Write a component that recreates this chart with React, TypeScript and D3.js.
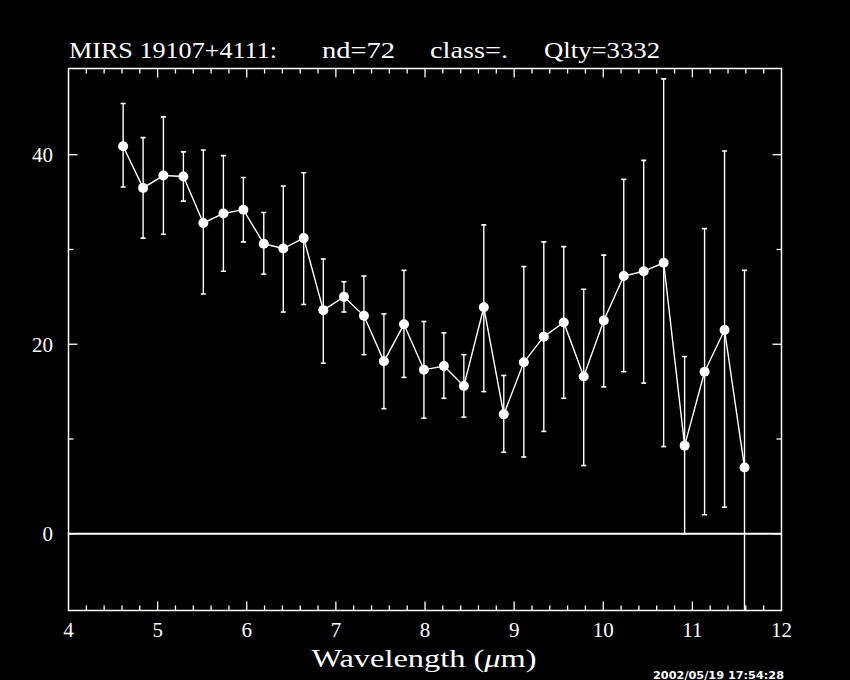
import React from "react";
import * as d3 from "d3";

const wavelength = [4.613, 4.837, 5.065, 5.289, 5.513, 5.738, 5.962, 6.191, 6.41, 6.639, 6.859, 7.091, 7.315, 7.539, 7.764, 7.988, 8.212, 8.436, 8.66, 8.884, 9.109, 9.333, 9.557, 9.781, 10.006, 10.23, 10.454, 10.678, 10.913, 11.137, 11.361, 11.585];
const flux = [40.9, 36.5, 37.8, 37.7, 32.8, 33.8, 34.2, 30.6, 30.1, 31.2, 23.6, 25.0, 23.0, 18.2, 22.1, 17.3, 17.7, 15.6, 23.9, 12.6, 18.1, 20.8, 22.3, 16.6, 22.5, 27.2, 27.7, 28.6, 9.3, 17.1, 21.5, 7.0];
const upper = [45.4, 41.8, 44.0, 40.3, 40.5, 39.9, 37.6, 33.9, 36.7, 38.1, 29.0, 26.6, 27.2, 23.2, 27.8, 22.4, 21.2, 18.9, 32.6, 16.7, 28.2, 30.8, 30.3, 25.8, 29.4, 37.4, 39.4, 48.0, 18.7, 32.2, 40.4, 27.8];
const lower = [36.6, 31.2, 31.6, 35.1, 25.3, 27.7, 30.8, 27.4, 23.4, 24.2, 18.0, 23.4, 18.9, 13.2, 16.5, 12.2, 14.3, 12.3, 15.0, 8.6, 8.1, 10.8, 14.3, 7.2, 15.5, 17.1, 15.9, 9.2, 0.0, 2.0, 2.8, -13.8];

const xTickLabels = [4, 5, 6, 7, 8, 9, 10, 11, 12];
const yTickLabels = [0, 20, 40];
const titleParts = [
  { text: "MIRS 19107+4111:", x: 69, w: 208 },
  { text: "nd=72", x: 322, w: 73 },
  { text: "class=.", x: 430, w: 78 },
  { text: "Qlty=3332", x: 544, w: 116 },
];
const dateText = "2002/05/19 17:54:28";

const W = 850;
const H = 680;
const L = 68.5, R = 781.5, T = 68.5, B = 610.5;

export default function App() {
  const x = d3.scaleLinear().domain([4, 12]).range([L, R]);
  const y = d3.scaleLinear().domain([-8.1, 49.1]).range([B, T]);

  const xMinor = d3.range(4, 12.0001, 0.2).map((v) => +v.toFixed(1));
  const yMinor = d3.range(0, 49, 10);

  const pts = wavelength.map((w, i) => ({ w, f: flux[i], u: upper[i], l: lower[i] }));
  const line = d3
    .line<{ w: number; f: number }>()
    .x((d) => x(d.w))
    .y((d) => y(d.f));

  const font = "'Liberation Serif', 'Times New Roman', serif";
  const white = "#ffffff";

  return (
    <div style={{ position: "absolute", left: 0, top: 0, width: W, height: H, background: "#000" }}>
      <svg width={W} height={H} style={{ display: "block", background: "#000" }}>
        <defs>
          <clipPath id="plotclip">
            <rect x={L} y={T} width={R - L} height={B - T} />
          </clipPath>
        </defs>

        {/* title */}
        {titleParts.map((p) => (
          <text key={p.text} x={p.x} y={57.5} fill={white} fontFamily={font} fontSize={24} textLength={p.w} lengthAdjust="spacingAndGlyphs">
            {p.text}
          </text>
        ))}

        {/* frame */}
        <rect x={L} y={T} width={R - L} height={B - T} fill="none" stroke={white} strokeWidth={1.5} />

        {/* x ticks */}
        {xMinor.map((v) => {
          const major = Math.abs(v - Math.round(v)) < 1e-6;
          const len = major ? 9 : 5;
          if (v <= 4 || v >= 12) return null;
          return (
            <g key={"xt" + v}>
              <line x1={x(v)} x2={x(v)} y1={B} y2={B - len} stroke={white} strokeWidth={1.3} />
              <line x1={x(v)} x2={x(v)} y1={T} y2={T + len} stroke={white} strokeWidth={1.3} />
            </g>
          );
        })}

        {/* y ticks */}
        {yMinor.map((v) => {
          const major = v % 20 === 0;
          const len = major ? 9 : 5;
          return (
            <g key={"yt" + v}>
              <line x1={L} x2={L + len} y1={y(v)} y2={y(v)} stroke={white} strokeWidth={1.3} />
              <line x1={R} x2={R - len} y1={y(v)} y2={y(v)} stroke={white} strokeWidth={1.3} />
            </g>
          );
        })}

        {/* zero line */}
        <line x1={L} x2={R} y1={y(0)} y2={y(0)} stroke={white} strokeWidth={2} />

        {/* x labels */}
        {xTickLabels.map((v) => (
          <text key={"xl" + v} x={x(v)} y={637} textAnchor="middle" fill={white} fontFamily={font} fontSize={21}>
            {v}
          </text>
        ))}

        {/* y labels */}
        {yTickLabels.map((v) => (
          <text key={"yl" + v} x={53} y={y(v) + 7.5} textAnchor="end" fill={white} fontFamily={font} fontSize={21}>
            {v}
          </text>
        ))}

        {/* axis title */}
        <text x={424} y={667} textAnchor="middle" fill={white} fontFamily={font} fontSize={25} textLength={225} lengthAdjust="spacingAndGlyphs">
          Wavelength (<tspan fontStyle="italic">μ</tspan>m)
        </text>

        {/* date */}
        <text x={653} y={679} fill={white} fontFamily="'DejaVu Sans', sans-serif" fontSize={10.5} fontWeight="bold" textLength={131} lengthAdjust="spacingAndGlyphs">
          {dateText}
        </text>

        <g clipPath="url(#plotclip)">
          {/* error bars */}
          {pts.map((d, i) => (
            <g key={"eb" + i}>
              <line x1={x(d.w)} x2={x(d.w)} y1={y(d.u)} y2={y(d.l)} stroke={white} strokeWidth={1.4} />
              <line x1={x(d.w) - 2.5} x2={x(d.w) + 2.5} y1={y(d.u)} y2={y(d.u)} stroke={white} strokeWidth={1.6} />
              <line x1={x(d.w) - 2.5} x2={x(d.w) + 2.5} y1={y(d.l)} y2={y(d.l)} stroke={white} strokeWidth={1.6} />
            </g>
          ))}
          {/* connecting line */}
          <path d={line(pts) || ""} fill="none" stroke={white} strokeWidth={1.4} />
          {/* markers */}
          {pts.map((d, i) => (
            <circle key={"pt" + i} cx={x(d.w)} cy={y(d.f)} r={5} fill={white} />
          ))}
        </g>
      </svg>
    </div>
  );
}
